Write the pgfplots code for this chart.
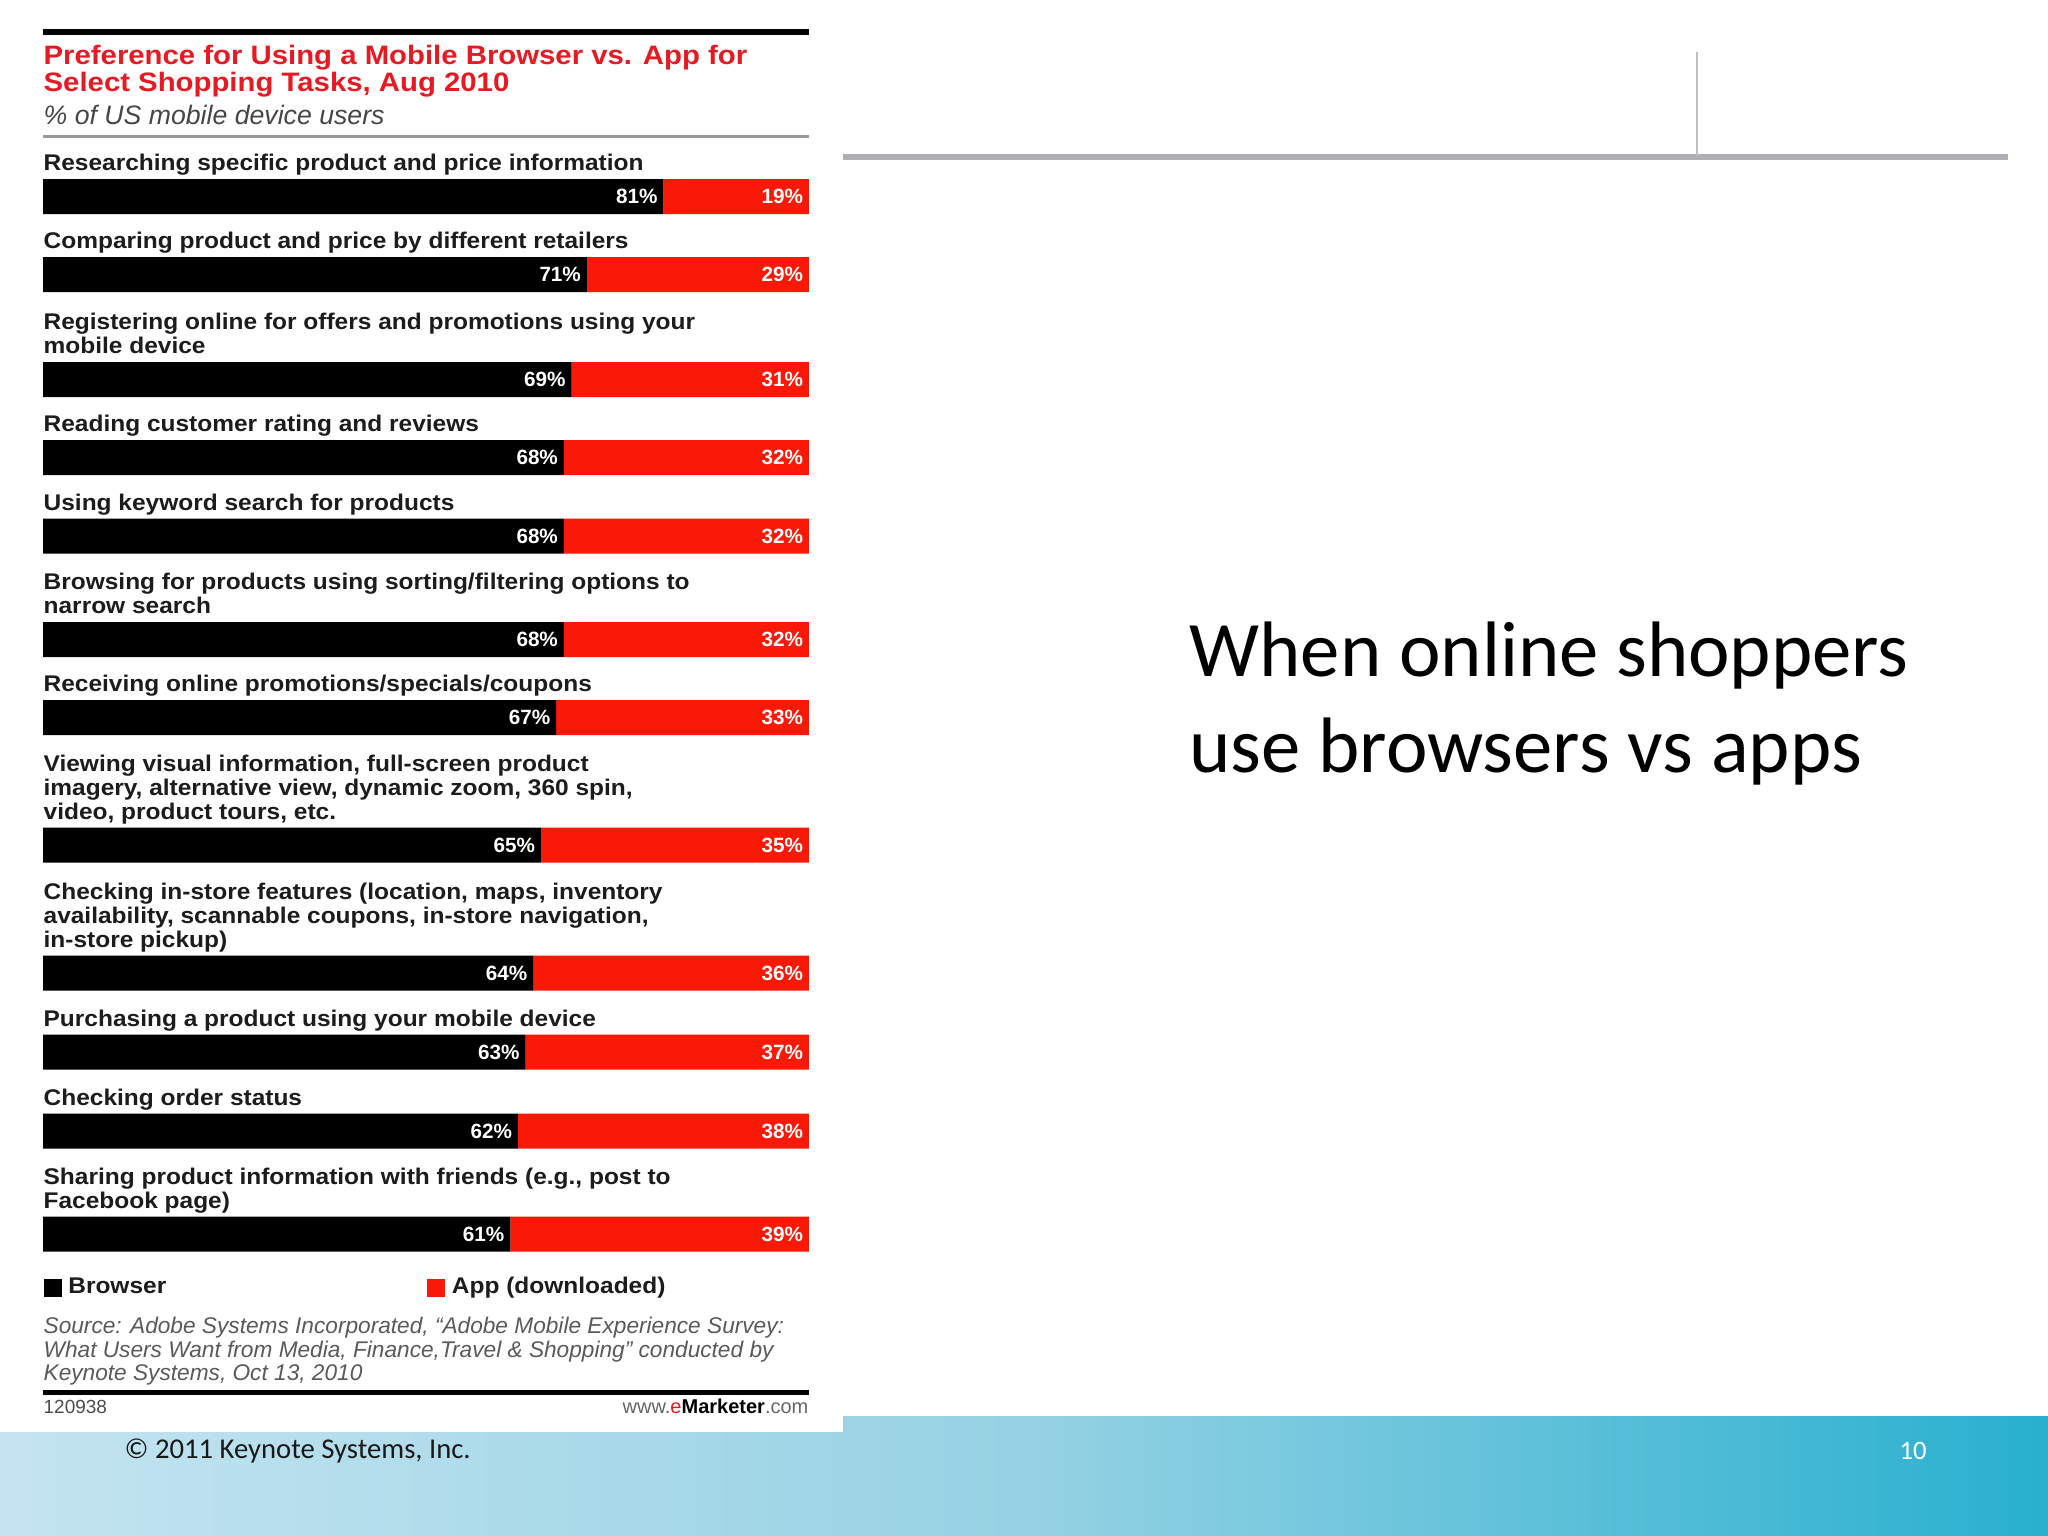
\documentclass[border=0pt]{standalone}
\usepackage{fontspec}
\setmainfont{Liberation Sans}
\newfontfamily\calibri{Carlito}
\newfontfamily\labfam{Liberation Sans}[FakeStretch=1.08]
\newfontfamily\titfam{Liberation Sans}[FakeStretch=1.1]
\usepackage{pgfplots}
\pgfplotsset{compat=1.18}
\definecolor{barred}{RGB}{250,24,6}
\definecolor{titlered}{RGB}{230,26,34}
\definecolor{labcol}{RGB}{28,28,28}
\definecolor{subgray}{RGB}{70,70,70}
\definecolor{srcgray}{RGB}{90,90,90}
\definecolor{bandL}{RGB}{196,228,240}
\definecolor{bandM}{RGB}{150,210,228}
\definecolor{bandR}{RGB}{40,176,207}
\definecolor{rulegray}{RGB}{175,175,180}
\newcommand\labfont{\labfam\bfseries\fontsize{6.8pt}{7.2pt}\selectfont}
\newcommand\numfont{\bfseries\fontsize{6.2pt}{6.5pt}\selectfont}
\newcommand\lab[2]{\node[anchor=base west, inner sep=0pt, font=\labfont, text=labcol] at (43,#1) {#2};}
\newcommand\src[2]{\node[anchor=base west, inner sep=0pt, font=\itshape\fontsize{6.8pt}{7pt}\selectfont, text=srcgray] at (43,#1) {#2};}
\pgfplotsset{myaxis/.style={
  at={(12.9pt,0pt)}, anchor=north west,
  scale only axis, width=229.8pt, height=460.8pt,
  xmin=0, xmax=100, ymin=0, ymax=1536, y dir=reverse,
  hide axis, clip=false}}
\begin{document}
\begin{tikzpicture}
\begin{scope}[x=0.3pt,y=-0.3pt]
\useasboundingbox (0,0) rectangle (2048,1536);
\fill[white] (0,0) rectangle (2048,1536);
\shade[left color=bandL, right color=bandR, middle color=bandM] (0,1416) rectangle (2048,1536);
\fill[white] (0,0) rectangle (843,1432);
% rules
\draw[line width=1.8pt] (43,32) -- (809,32);
\draw[line width=0.9pt, black!40] (43,137) -- (809,137);
\draw[line width=1.5pt] (43,1392) -- (809,1392);
% title
\node[anchor=base west, inner sep=0pt, font=\titfam\bfseries\fontsize{8pt}{8.5pt}\selectfont, text=titlered] at (43,65) {Preference for Using a Mobile Browser vs. App for};
\node[anchor=base west, inner sep=0pt, font=\titfam\bfseries\fontsize{8pt}{8.5pt}\selectfont, text=titlered] at (43,92) {Select Shopping Tasks, Aug 2010};
\node[anchor=base west, inner sep=0pt, font=\itshape\fontsize{8pt}{8.5pt}\selectfont, text=subgray] at (43,125) {\% of US mobile device users};
% category labels
\lab{171}{Researching specific product and price information}
\lab{249}{Comparing product and price by different retailers}
\lab{330}{Registering online for offers and promotions using your}
\lab{354}{mobile device}
\lab{432}{Reading customer rating and reviews}
\lab{510.5}{Using keyword search for products}
\lab{590}{Browsing for products using sorting/filtering options to}
\lab{614}{narrow search}
\lab{692}{Receiving online promotions/specials/coupons}
\lab{771.5}{Viewing visual information, full-screen product}
\lab{795.5}{imagery, alternative view, dynamic zoom, 360 spin,}
\lab{819.5}{video, product tours, etc.}
\lab{899.5}{Checking in-store features (location, maps, inventory}
\lab{923.5}{availability, scannable coupons, in-store navigation,}
\lab{947.5}{in-store pickup)}
\lab{1026.5}{Purchasing a product using your mobile device}
\lab{1105.5}{Checking order status}
\lab{1184.5}{Sharing product information with friends (e.g., post to}
\lab{1208.5}{Facebook page)}
% source
\src{1333}{Source: Adobe Systems Incorporated, ``Adobe Mobile Experience Survey:}
\src{1357}{What Users Want from Media, Finance,Travel \& Shopping'' conducted by}
\src{1380}{Keynote Systems, Oct 13, 2010}
\node[anchor=base west, inner sep=0pt, font=\fontsize{5.7pt}{6pt}\selectfont, text=black!70] at (43,1413) {120938};
\node[anchor=base east, inner sep=0pt, font=\fontsize{6pt}{6.5pt}\selectfont, text=black!60] at (809,1413) {www.\textcolor{titlered}{e}\textcolor{black}{\textbf{Marketer}}.com};
% right side
\draw[rulegray, line width=1.8pt] (843,157) -- (2008,157);
\draw[rulegray!80, line width=0.45pt] (1697,52) -- (1697,155);
\node[anchor=base west, inner sep=0pt, font=\calibri\fontsize{23.6pt}{28pt}\selectfont] at (1189,677) {When online shoppers};
\node[anchor=base west, inner sep=0pt, font=\calibri\fontsize{23.6pt}{28pt}\selectfont] at (1189,772) {use browsers vs apps};
\node[anchor=base west, inner sep=0pt, font=\calibri\fontsize{8.6pt}{9pt}\selectfont, text=black!90] at (124,1458) {© 2011 Keynote Systems, Inc.};
\node[anchor=base west, inner sep=0pt, font=\calibri\fontsize{8pt}{9pt}\selectfont, text=white] at (1899,1459) {10};
\end{scope}
% bars
\begin{axis}[myaxis,
  xbar stacked, bar width=10.5pt,
  legend columns=2,
  legend cell align=left,
  legend style={at={(axis cs:0,1288)}, anchor=west, draw=none, fill=none, inner sep=0pt, font=\labfont, text=labcol,
    /tikz/every even column/.append style={column sep=76.3pt}},
  legend image code/.code={\fill[#1] (0pt,-2.7pt) rectangle (5.4pt,2.7pt);},
]
\addplot[fill=black, draw=none] coordinates {(81,196.5) (71,274.5) (69,379.5) (68,457.5) (68,536) (68,639.5) (67,717.5) (65,845) (64,973) (63,1052) (62,1131) (61,1234)};
\addplot[fill=barred, draw=none] coordinates {(19,196.5) (29,274.5) (31,379.5) (32,457.5) (32,536) (32,639.5) (33,717.5) (35,845) (36,973) (37,1052) (38,1131) (39,1234)};
\legend{Browser, App (downloaded)}
\end{axis}
% value labels
\begin{axis}[myaxis,
  /pgf/number format/assume math mode=true,
  every node near coord/.append style={anchor=east, xshift=-1.6pt, text=white, font=\numfont, inner sep=0pt},
]
\addplot[draw=none, mark=none, point meta=explicit, nodes near coords={\pgfmathprintnumber{\pgfplotspointmeta}\%}] coordinates {(81,196.5)[81] (71,274.5)[71] (69,379.5)[69] (68,457.5)[68] (68,536)[68] (68,639.5)[68] (67,717.5)[67] (65,845)[65] (64,973)[64] (63,1052)[63] (62,1131)[62] (61,1234)[61]};
\addplot[draw=none, mark=none, point meta=explicit, nodes near coords={\pgfmathprintnumber{\pgfplotspointmeta}\%}] coordinates {(100,196.5)[19] (100,274.5)[29] (100,379.5)[31] (100,457.5)[32] (100,536)[32] (100,639.5)[32] (100,717.5)[33] (100,845)[35] (100,973)[36] (100,1052)[37] (100,1131)[38] (100,1234)[39]};
\end{axis}
\end{tikzpicture}
\end{document}
